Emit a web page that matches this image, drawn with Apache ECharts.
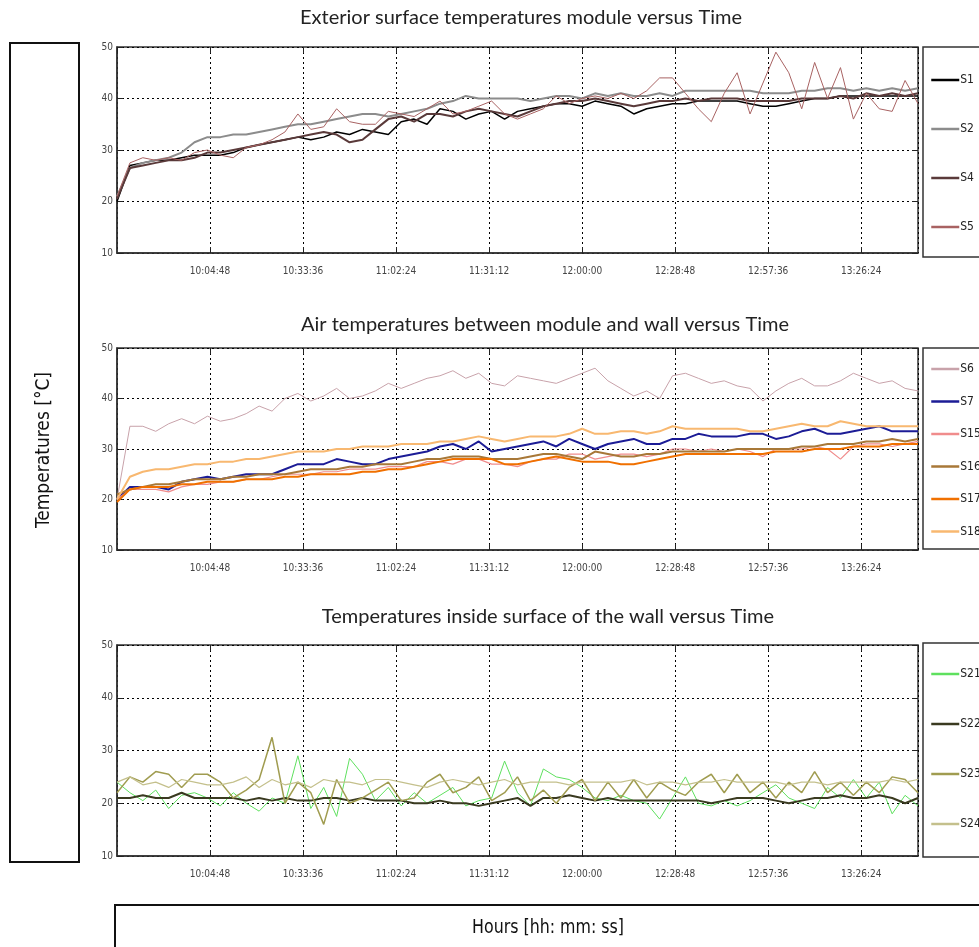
<!DOCTYPE html>
<html>
<head>
<meta charset="utf-8">
<script src="https://cdn.jsdelivr.net/npm/echarts@6.0.0/dist/echarts.min.js"></script>
<style>
  html, body { margin: 0; padding: 0; background: #fff; }
  #chart { width: 979px; height: 947px; }
</style>
</head>
<body>
<div id="chart"></div>
<script>
// sample times (hh:mm), shared by all sensors
var times = ['9:36','9:40','9:44','9:48','9:52','9:56','10:00','10:04','10:08','10:12','10:16','10:20','10:24','10:28','10:32','10:36',
  '10:40','10:44','10:48','10:52','10:56','11:00','11:04','11:08','11:12','11:16','11:20','11:24','11:28','11:32','11:36','11:40',
  '11:44','11:48','11:52','11:56','12:00','12:04','12:08','12:12','12:16','12:20','12:24','12:28','12:32','12:36','12:40','12:44',
  '12:48','12:52','12:56','13:00','13:04','13:08','13:12','13:16','13:20','13:24','13:28','13:32','13:36','13:40','13:44'];

// exterior surface of the module
var s1 = [20,27,27.5,28,28,28.5,29,29,29,29.5,30.5,31,31.5,32,32.5,32,32.5,33.5,33,34,33.5,33,35.5,36,35,38,37.5,36,37,37.5,36,37.5,
  38,38.5,39,39,38.5,39.5,39,38.5,37,38,38.5,39,39,39.5,39.5,39.5,39.5,39,38.5,38.5,39,39.5,40,40,40.5,40.5,40.5,40.5,40.5,40.5,40.5];
var s2 = [21,26.5,27.5,28,28.5,29.5,31.5,32.5,32.5,33,33,33.5,34,34.5,35,35,35.5,36,36.5,37,37,36.5,37,37.5,38,39,39.5,40.5,40,40,40,40,
  39.5,40,40.5,40.5,40,41,40.5,41,40.5,40.5,41,40.5,41.5,41.5,41.5,41.5,41.5,41.5,41,41,41,41.5,41.5,42,42,41.5,42,41.5,42,41.5,42];
var s4 = [20.5,26.5,27,27.5,28,28,28.5,29.5,29.5,30,30.5,31,31.5,32,32.5,33,33.5,33,31.5,32,34,36,36.5,35.5,37,37,36.5,37.5,38,37.5,37,36.5,
  37.5,38.5,39,39.5,39.5,40,39.5,39,38.5,39,39.5,39.5,40,39.5,40,40,40,39.5,39.5,39.5,39.5,40,40,40,40.5,40,41,40.5,41,40.5,41];
var s5 = [21,27.5,28.5,28,28.5,28,29.5,30,29,28.5,30.5,31,32,33.5,37,34,34.5,38,35.5,35,35,37.5,37,36.5,38,39.5,37,37.5,38.5,39.5,37,36,
  37,38,40.5,39,40,40.5,40,41,40,41.5,44,44,41,38,35.5,41,45,37,43,49,45,38,47,40,46,36,41,38,37.5,43.5,39];

// air between module and wall
var s6 = [20,34.5,34.5,33.5,35,36,35,36.5,35.5,36,37,38.5,37.5,40,41,39.5,40.5,42,40,40.5,41.5,43,42,43,44,44.5,45.5,44,45,43,42.5,44.5,
  44,43.5,43,44,45,46,43.5,42,40.5,41.5,40,44.5,45,44,43,43.5,42.5,42,39.5,41.5,43,44,42.5,42.5,43.5,45,44,43,43.5,42,41.5];
var s7 = [20,22.5,22.5,22.5,22,23.5,24,24.5,24,24.5,25,25,25,26,27,27,27,28,27.5,27,27,28,28.5,29,29.5,30.5,31,30,31.5,29.5,30,30.5,
  31,31.5,30.5,32,31,30,31,31.5,32,31,31,32,32,33,32.5,32.5,32.5,33,33,32,32.5,33.5,34,33,33,33.5,34,34.5,33.5,33.5,33.5];
var s15 = [20,22,22,22,21.5,22.5,23,23,23.5,23.5,24,24,24.5,25,25,25,25.5,25.5,26,26,26,26.5,26.5,26.5,27.5,27.5,27,28,28,27,27,26.5,
  27.5,28,28,29,29,28,28.5,29,29,28.5,29,30,30,29.5,30,29.5,30,29.5,28.5,30,30,30,30.5,30,28,30.5,31,31,30.5,31,31.5];
var s16 = [21,22,22.5,23,23,23.5,24,24,24,24.5,24.5,25,25,25,25.5,26,26,26,26.5,26.5,27,27,27,27.5,28,28,28.5,28.5,28.5,28,28,28,
  28.5,29,29,28.5,28,29.5,29,28.5,28.5,29,29,29.5,29.5,29.5,29.5,29.5,30,30,30,30,30,30.5,30.5,31,31,31,31.5,31.5,32,31.5,32];
var s17 = [19.5,22,22.5,22.5,22.5,23,23,23.5,23.5,23.5,24,24,24,24.5,24.5,25,25,25,25,25.5,25.5,26,26,26.5,27,27.5,28,28,28,28,27,27,
  27.5,28,28.5,28,27.5,27.5,27.5,27,27,27.5,28,28.5,29,29,29,29,29,29,29,29.5,29.5,29.5,30,30,30,30.5,30.5,30.5,31,31,31];
var s18 = [20,24.5,25.5,26,26,26.5,27,27,27.5,27.5,28,28,28.5,29,29.5,29.5,29.5,30,30,30.5,30.5,30.5,31,31,31,31.5,31.5,32,32.5,32,31.5,32,
  32.5,32.5,32.5,33,34,33,33,33.5,33.5,33,33.5,34.5,34,34,34,34,34,33.5,33.5,34,34.5,35,34.5,34.5,35.5,35,34.5,34.5,34.5,34.5,34.5];

// inside surface of the wall
var s21 = [24,22,20.5,22.5,19,21.5,22,21,19.5,22,20,18.5,21,20,29,19,23,17.5,28.5,25.5,20.5,23,19.5,22,20,21.5,23,19.5,20.5,21,28,22,
  19.5,26.5,25,24.5,23,21,20.5,21.5,20.5,20,17,21,25,20,19.5,20.5,19.5,20.5,22,23.5,21,20,19,23,21,24.5,21,24,18,21.5,19.5];
var s22 = [21,21,21.5,21,21,22,21,21,21,21,20.5,21,20.5,21,20.5,20.5,21,21,20.5,21,20.5,20.5,20.5,20,20,20.5,20,20,19.5,20,20.5,21,
  19.5,21,21,21.5,21,20.5,21,20.5,20.5,20.5,20.5,20.5,20.5,20.5,20,20.5,21,21,21,20.5,20,20.5,21,21,21.5,21,21,21.5,21,20,21];
var s23 = [22,25,24,26,25.5,23,25.5,25.5,24,21,22.5,24.5,32.5,20,24,22,16,24.5,20,21,22.5,24,20.5,21,24,25.5,22,23,25,20.5,22,25,
  20.5,22.5,20,23,24.5,20.5,24,21,24.5,21,24,22.5,21.5,24,25.5,22,25.5,22,24,21,24,22,26,22,24,21.5,24,22,25,24.5,22];
var s24 = [24,25,23.5,24,23,24.5,24,23.5,23.5,24,25,23,24.5,23.5,24,23,24.5,24,24,23.5,24.5,24.5,24,23.5,23,24,24.5,24,23.5,24,24.5,23.5,
  24,24,24,23.5,24,24,24,24,24.5,23.5,24,24,23.5,24,24,24.5,24,24,24,24,23.5,24,24,23.5,24,24,24,24,24.5,24,24.5];

var narrow = '"Liberation Sans Narrow", "DejaVu Sans Condensed", "Liberation Sans", sans-serif';
var titleFont = 'Lato, "Open Sans", sans-serif';
var tMin = 34560, tMax = 49440, tStep = 1728;   // 9:36:00 .. 13:44:00, ticks every 28:48

function toSec(s) {
    var p = s.split(':');
    return (+p[0]) * 3600 + (+p[1]) * 60;
}
function hms(v) {
    var h = Math.floor(v / 3600), m = Math.floor(v % 3600 / 60), s = Math.round(v % 60);
    return h + ':' + (m < 10 ? '0' : '') + m + ':' + (s < 10 ? '0' : '') + s;
}
function pairs(vals) {
    return vals.map(function (v, i) { return [toSec(times[i]), v]; });
}

var grids = [
    {left: 117, top: 47, width: 801, height: 206},
    {left: 117, top: 348, width: 801, height: 202},
    {left: 117, top: 645, width: 801, height: 211}
];
grids.forEach(function (g) {
    g.show = true;
    g.borderColor = '#333';
    g.borderWidth = 1.5;
    g.outerBoundsMode = 'none';
});

var dotted = {color: '#000', width: 1, type: [2, 3]};
var xAxes = [], yAxes = [];
[0, 1, 2].forEach(function (i) {
    xAxes.push({
        type: 'value', gridIndex: i, min: tMin, max: tMax, interval: tStep,
        axisLine: {show: true, lineStyle: {color: '#333', width: 1.5}},
        axisTick: {inside: true, length: 6, lineStyle: {color: '#222'}},
        axisLabel: {
            showMinLabel: false, showMaxLabel: false, margin: 13,
            color: '#444', fontSize: 10, fontFamily: narrow,
            formatter: function (v) { return v === tMin ? '' : hms(v); }
        },
        splitLine: {show: true, lineStyle: dotted}
    });
    yAxes.push({
        type: 'value', gridIndex: i, min: 10, max: 50, interval: 10,
        axisLine: {show: true, lineStyle: {color: '#333', width: 1.5}},
        axisTick: {inside: true, length: 6, lineStyle: {color: '#222'}},
        axisLabel: {margin: 4, color: '#444', fontSize: 10, fontFamily: narrow},
        splitLine: {show: true, lineStyle: dotted}
    });
});
// tick marks on top and right borders
[0, 1, 2].forEach(function (i) {
    xAxes.push({
        type: 'value', gridIndex: i, position: 'top', min: tMin, max: tMax, interval: tStep,
        axisLine: {show: false}, axisLabel: {show: false}, splitLine: {show: false},
        axisTick: {inside: true, length: 6, lineStyle: {color: '#222'}}
    });
    yAxes.push({
        type: 'value', gridIndex: i, position: 'right', min: 10, max: 50, interval: 10,
        axisLine: {show: false}, axisLabel: {show: false}, splitLine: {show: false},
        axisTick: {inside: true, length: 6, lineStyle: {color: '#222'}}
    });
});

function line(name, vals, grid, color, width) {
    return {
        name: name, type: 'line', data: pairs(vals),
        xAxisIndex: grid, yAxisIndex: grid,
        symbol: 'none', animation: false,
        lineStyle: {color: color, width: width},
        itemStyle: {color: color}
    };
}

var series = [
    line('S1', s1, 0, '#000000', 1.5),
    line('S2', s2, 0, '#8c8c8c', 2),
    line('S4', s4, 0, '#5a3a3a', 2),
    line('S5', s5, 0, '#a86262', 1),
    line('S6', s6, 1, '#c8a2aa', 1),
    line('S7', s7, 1, '#1c1c96', 2),
    line('S15', s15, 1, '#f08c8c', 1.2),
    line('S16', s16, 1, '#a87838', 2),
    line('S17', s17, 1, '#f07000', 2),
    line('S18', s18, 1, '#f8b870', 2),
    line('S21', s21, 2, '#5ee05e', 1),
    line('S22', s22, 2, '#3a3a20', 2),
    line('S23', s23, 2, '#a09c50', 1.5),
    line('S24', s24, 2, '#c4c08c', 1.2)
];

function legend(names, top, padTop, gap, padBottom) {
    return {
        orient: 'vertical', left: 923, top: top, data: names,
        itemWidth: 28, itemHeight: 14, itemGap: gap,
        padding: [padTop, 30, padBottom, 7],
        borderColor: '#333', borderWidth: 1.5,
        selectedMode: false,
        itemStyle: {opacity: 0},
        lineStyle: {width: 2.5},
        textStyle: {fontSize: 12, color: '#222', fontFamily: narrow, padding: [0, 0, 0, -4]}
    };
}

var myChart = echarts.init(document.getElementById('chart'));
myChart.setOption({
    animation: false,
    grid: grids,
    xAxis: xAxes,
    yAxis: yAxes,
    legend: [
        legend(['S1', 'S2', 'S4', 'S5'], 47, 27, 37, 24),
        legend(['S6', 'S7', 'S15', 'S16', 'S17', 'S18'], 348, 15, 20.5, 11.5),
        legend(['S21', 'S22', 'S23', 'S24'], 643, 25, 38, 27)
    ],
    graphic: [
        {type: 'text', x: 521, y: 18, style: {text: 'Exterior surface temperatures module versus Time',
            fill: '#222', fontSize: 20, fontFamily: titleFont, textAlign: 'center', textVerticalAlign: 'middle'}},
        {type: 'text', x: 545, y: 325, style: {text: 'Air temperatures between module and wall versus Time',
            fill: '#222', fontSize: 20, fontFamily: titleFont, textAlign: 'center', textVerticalAlign: 'middle'}},
        {type: 'text', x: 548, y: 617, style: {text: 'Temperatures inside surface of the wall versus Time',
            fill: '#222', fontSize: 20, fontFamily: titleFont, textAlign: 'center', textVerticalAlign: 'middle'}},
        {type: 'rect', shape: {x: 10, y: 43, width: 69, height: 819},
            style: {fill: 'none', stroke: '#111', lineWidth: 2}},
        {type: 'text', x: 44, y: 450, rotation: Math.PI / 2, scaleX: 0.95,
            style: {text: 'Temperatures [°C]', fill: '#111', fontSize: 20, fontFamily: narrow,
                textAlign: 'center', textVerticalAlign: 'middle'}},
        {type: 'rect', shape: {x: 115, y: 905, width: 880, height: 60},
            style: {fill: 'none', stroke: '#111', lineWidth: 2}},
        {type: 'text', x: 548, y: 928, scaleX: 0.88,
            style: {text: 'Hours [hh: mm: ss]', fill: '#111', fontSize: 20, fontFamily: narrow,
                textAlign: 'center', textVerticalAlign: 'middle'}}
    ],
    series: series
});
</script>
</body>
</html>
